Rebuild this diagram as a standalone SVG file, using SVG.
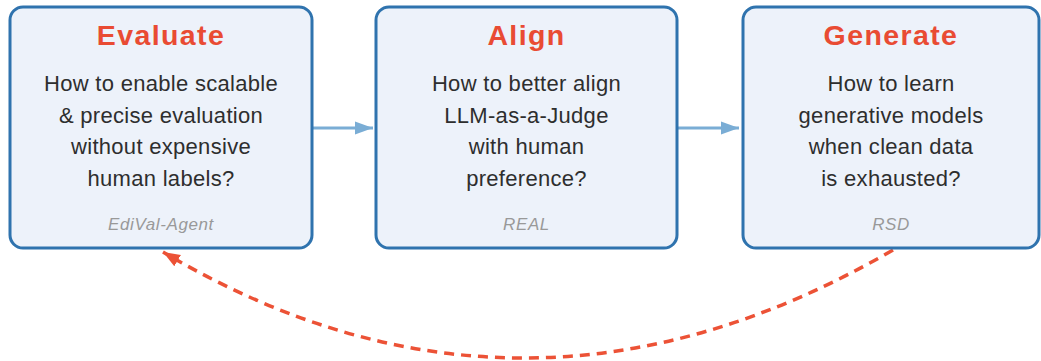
<svg xmlns="http://www.w3.org/2000/svg" width="1041" height="361" viewBox="0 0 1041 361">
  <style>
    .box { fill: #EDF2FA; stroke: #2F73AE; stroke-width: 3; }
    .title { font-family: "Liberation Sans", Arial, sans-serif; font-weight: bold; font-size: 28.5px; fill: #E94B33; text-anchor: middle; letter-spacing: 1.4px; }
    .body { font-family: "Liberation Sans", Arial, sans-serif; font-size: 22px; fill: #2E2E2E; text-anchor: middle; letter-spacing: 0.3px; }
    .ref { font-family: "Liberation Sans", Arial, sans-serif; font-style: italic; font-size: 17px; fill: #999999; text-anchor: middle; letter-spacing: 0.6px; }
    .flow { fill: none; stroke: #7AADD5; stroke-width: 3; }
    .loop { fill: none; stroke: #EC5236; stroke-width: 3.5; stroke-dasharray: 10 7; }
  </style>
  <defs>
    <marker id="arrow-blue" markerUnits="userSpaceOnUse" markerWidth="18" markerHeight="14" refX="18" refY="7" orient="auto">
      <path d="M0,0.5 L18,7 L0,13.5 z" fill="#7AADD5"/>
    </marker>
    <marker id="arrow-red" markerUnits="userSpaceOnUse" markerWidth="18" markerHeight="14" refX="17" refY="7" orient="auto">
      <path d="M0,0.5 L17,7 L0,13.5 z" fill="#EC5236"/>
    </marker>
  </defs>

  <g id="connectors">
    <line class="flow" x1="313" y1="128" x2="373" y2="128" marker-end="url(#arrow-blue)"/>
    <line class="flow" x1="678" y1="128" x2="739" y2="128" marker-end="url(#arrow-blue)"/>
    <path class="loop" d="M893,250 Q522,465 163,252" marker-end="url(#arrow-red)"/>
  </g>

  <g id="evaluate">
    <rect class="box" x="10" y="7" width="302" height="241" rx="13"/>
    <text class="title" x="161" y="45">Evaluate</text>
    <text class="body" x="161" y="91">How to enable scalable</text>
    <text class="body" x="161" y="122.5">&amp; precise evaluation</text>
    <text class="body" x="161" y="154">without expensive</text>
    <text class="body" x="161" y="185.5">human labels?</text>
    <text class="ref" x="161" y="230">EdiVal-Agent</text>
  </g>

  <g id="align">
    <rect class="box" x="376" y="7" width="301" height="241" rx="13"/>
    <text class="title" x="526.5" y="45">Align</text>
    <text class="body" x="526.5" y="91">How to better align</text>
    <text class="body" x="526.5" y="122.5">LLM-as-a-Judge</text>
    <text class="body" x="526.5" y="154">with human</text>
    <text class="body" x="526.5" y="185.5">preference?</text>
    <text class="ref" x="526.5" y="230">REAL</text>
  </g>

  <g id="generate">
    <rect class="box" x="743" y="7" width="296" height="241" rx="13"/>
    <text class="title" x="891" y="45">Generate</text>
    <text class="body" x="891" y="91">How to learn</text>
    <text class="body" x="891" y="122.5">generative models</text>
    <text class="body" x="891" y="154">when clean data</text>
    <text class="body" x="891" y="185.5">is exhausted?</text>
    <text class="ref" x="891" y="230">RSD</text>
  </g>
</svg>
